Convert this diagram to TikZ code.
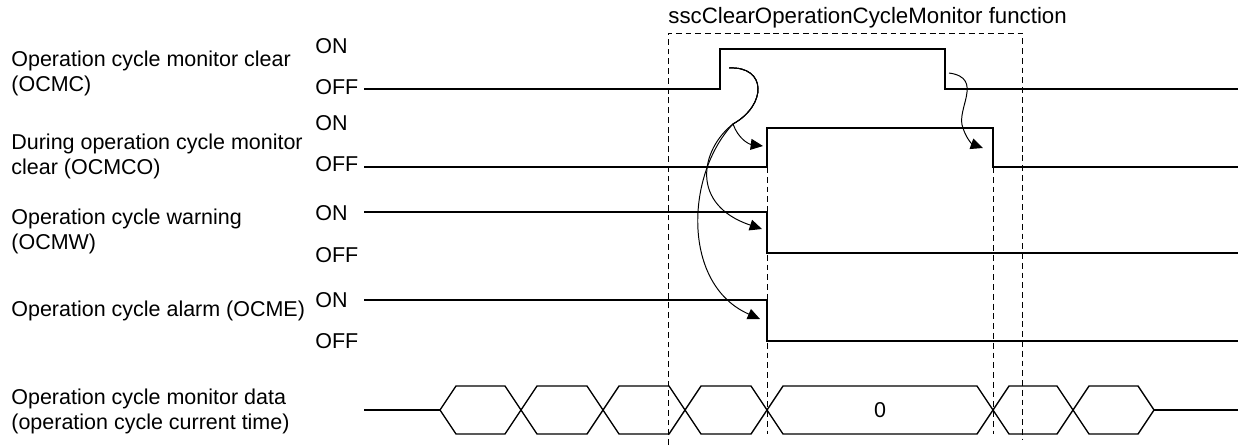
\documentclass[tikz,border=0pt]{standalone}
\usepackage{fontspec}
\setmainfont{Liberation Sans}
\usetikzlibrary{arrows.meta}

\begin{document}
\begin{tikzpicture}[x=0.18mm,y=-0.18mm,
  every node/.style={font=\fontsize{11}{12.8}\selectfont,inner sep=0pt},
  sig/.style={line width=0.7pt},
  guide/.style={line width=0.5pt,dash pattern=on 3pt off 2pt},
  cause/.style={line width=0.5pt,-{Triangle[length=6.3pt,width=5.6pt]}}]
\useasboundingbox (0,0) rectangle (1239,447);

% signal names
\draw(11,73) node[anchor=west,align=left] (nOCMC) {Operation cycle monitor clear\\(OCMC)};
\draw(11,156) node[anchor=west,align=left] (nOCMCO) {During operation cycle monitor\\clear (OCMCO)};
\draw(11,231) node[anchor=west,align=left] (nOCMW) {Operation cycle warning\\(OCMW)};
\draw(11,311) node[anchor=west] (nOCME) {Operation cycle alarm (OCME)};
\draw(11,411) node[anchor=west,align=left] (nData) {Operation cycle monitor data\\(operation cycle current time)};

% ON / OFF levels
\draw(315,46) node[anchor=west] (on1) {ON};
\draw(315,87) node[anchor=west] (off1) {OFF};
\draw(315,123) node[anchor=west] (on2) {ON};
\draw(315,164) node[anchor=west] (off2) {OFF};
\draw(315,213) node[anchor=west] (on3) {ON};
\draw(315,255) node[anchor=west] (off3) {OFF};
\draw(315,300) node[anchor=west] (on4) {ON};
\draw(315,341) node[anchor=west] (off4) {OFF};

% function window
\draw(668,18) node[anchor=west,font=\fontsize{11.4}{13}\selectfont] (fn) {sscClearOperationCycleMonitor function};
\draw[guide] (668,445) -- (668,33) -- (1022,33) -- (1022,440);
\draw[guide] (767,167) -- (767,434);
\draw[guide] (993,167) -- (993,434);

% waveforms
\draw[sig] (364,89) -- (720,89) -- (720,49) -- (945,49) -- (945,89) -- (1238,89);
\draw[sig] (364,167) -- (767,167) -- (767,128) -- (993,128) -- (993,167) -- (1238,167);
\draw[sig] (364,212) -- (767,212) -- (767,253) -- (1238,253);
\draw[sig] (364,300) -- (767,300) -- (767,341) -- (1238,341);

% monitor data
\draw[sig] (364,410) -- (440,410);
\foreach \a/\b in {440/521,521/603,603/685,685/767,767/993,993/1073,1073/1154}
  \draw[sig] (\a,410) -- (\a+16,386) -- (\b-16,386) -- (\b,410) -- (\b-16,434) -- (\a+16,434) -- cycle;
\draw[sig] (1154,410) -- (1238,410);
\draw(880,410) node (zero) {0};

% causes
\coordinate (rise) at (729,68);
\coordinate (fall) at (949,73);
\coordinate (split) at (733,124);
\coordinate (toOCMCO) at (763,146);
\coordinate (toOCMW) at (762,229);
\coordinate (toOCME) at (760,319);
\coordinate (offOCMCO) at (983,148);

\draw[cause] (rise) .. controls (767,66) and (767,105) .. (split)
  .. controls (738,138) and (748,144) .. (toOCMCO);
\draw[cause] (rise) .. controls (767,66) and (767,105) .. (split)
  .. controls (700,150) and (690,205) .. (toOCMW);
\draw[cause] (rise) .. controls (767,66) and (767,105) .. (split)
  .. controls (685,175) and (682,285) .. (toOCME);
\draw[cause] (fall) .. controls (985,78) and (955,110) .. (963,128)
  .. controls (966,138) and (972,144) .. (offOCMCO);
\end{tikzpicture}
\end{document}
